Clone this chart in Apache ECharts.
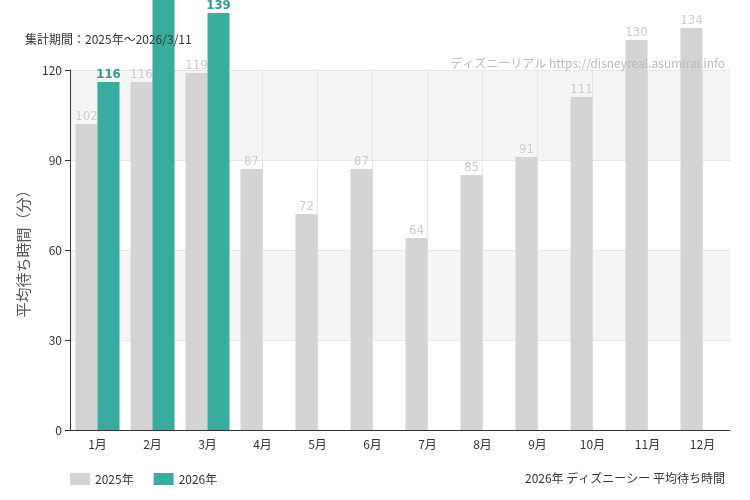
<!DOCTYPE html>
<html><head><meta charset="utf-8">
<script src="https://cdn.jsdelivr.net/npm/echarts@6/dist/echarts.min.js"></script>
<style>body{margin:0}#c{width:750px;height:500px}</style></head>
<body><div id="c"></div>
<script>
var months = ['1月','2月','3月','4月','5月','6月','7月','8月','9月','10月','11月','12月'];
var y2025 = [102,116,119,87,72,87,64,85,91,111,130,134];
var y2026 = [116,150,139,null,null,null,null,null,null,null,null,null];
var yTicks = [0,30,60,90,120];

var font = '"Noto Sans CJK JP", sans-serif';
var numFont = '"DejaVu Sans Condensed", sans-serif';
var chart = echarts.init(document.getElementById('c'));
chart.setOption({
  animation: false,
  textStyle: {fontFamily: font},
  grid: {left: 70, right: 20, top: 70, bottom: 70},
  title: [
    {text: '集計期間：2025年～2026/3/11', left: 20, top: 28, textStyle: {fontSize: 12, fontWeight: 'normal', color: '#333', fontFamily: font}},
    {text: 'ディズニーリアル https://disneyreal.asumirai.info', right: 20, top: 52, textStyle: {fontSize: 12, fontWeight: 'normal', color: '#bbb', fontFamily: font}},
    {text: '2026年 ディズニーシー 平均待ち時間', right: 20, top: 467, textStyle: {fontSize: 12, fontWeight: 'normal', color: '#333', fontFamily: font}}
  ],
  legend: {left: 65, top: 468, itemWidth: 20, itemHeight: 12, itemGap: 20, icon: 'rect',
    textStyle: {fontSize: 12, color: '#333'}, data: ['2025年','2026年']},
  xAxis: {type: 'category', data: months,
    axisLine: {lineStyle: {color: '#333'}}, axisTick: {show: false},
    axisLabel: {color: '#333', fontSize: 12}},
  yAxis: {type: 'value', min: 0, max: 120, interval: 30,
    name: '平均待ち時間（分）', nameLocation: 'middle', nameGap: 36,
    nameTextStyle: {fontSize: 15, color: '#555'},
    axisLine: {show: true, lineStyle: {color: '#333'}}, axisTick: {show: true, lineStyle: {color: '#333'}},
    axisLabel: {color: '#333', fontSize: 12, formatter: function (v) { return yTicks.indexOf(v) >= 0 ? v : ''; }},
    splitLine: {lineStyle: {color: '#e6e6e6'}},
    splitArea: {show: true, areaStyle: {color: ['#ffffff', '#f5f5f5']}}},
  series: [
    {name: 'grid', type: 'line', data: [], z: 0, silent: true,
      markLine: {silent: true, symbol: 'none', label: {show: false}, z: 0,
        lineStyle: {color: '#e6e6e6', type: 'solid', width: 1},
        data: months.map(function (m) { return {xAxis: m}; })}},
    {name: '2025年', type: 'bar', data: y2025, barWidth: 22, barGap: '0%', clip: false, z: 3,
      itemStyle: {color: '#d4d4d4'},
      label: {show: true, position: 'top', distance: 1, color: '#ccc', fontSize: 13, fontFamily: numFont}},
    {name: '2026年', type: 'bar', data: y2026, barWidth: 22, clip: false, z: 3,
      itemStyle: {color: '#3aab9f'},
      label: {show: true, position: 'top', distance: 1, color: '#2f9c90', fontSize: 13, fontWeight: 'bold', fontFamily: numFont}}
  ]
});
</script></body></html>
